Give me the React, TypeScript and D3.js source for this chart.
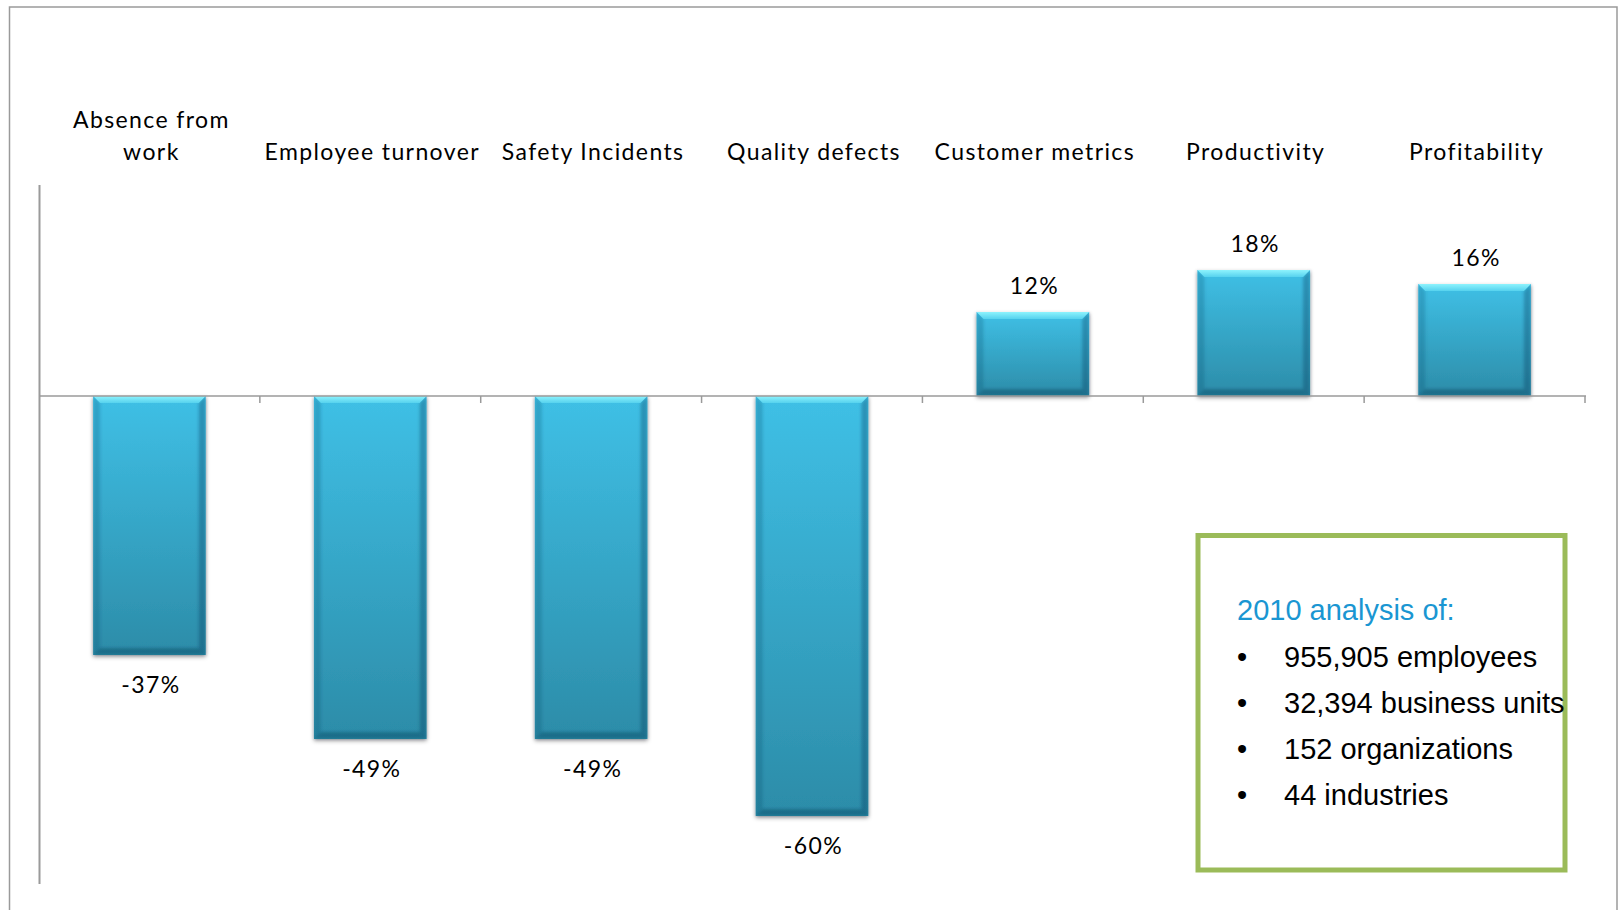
import React from "react";
import * as d3 from "d3";

const categories: string[][] = [
  ["Absence from", "work"],
  ["Employee turnover"],
  ["Safety Incidents"],
  ["Quality defects"],
  ["Customer metrics"],
  ["Productivity"],
  ["Profitability"],
];
const values: number[] = [-37, -49, -49, -60, 12, 18, 16];
const valueLabels: string[] = ["-37%", "-49%", "-49%", "-60%", "12%", "18%", "16%"];
const boxTitle = "2010 analysis of:";
const boxItems: string[] = [
  "955,905 employees",
  "32,394 business units",
  "152 organizations",
  "44 industries",
];

const W = 1619;
const H = 910;

export default function App() {
  const idx = categories.map((_, i) => String(i));
  const x = d3
    .scaleBand<string>()
    .domain(idx)
    .range([39, 1585])
    .paddingInner(0.49)
    .paddingOuter(0.245);
  const y = d3.scaleLinear().domain([-70, 30]).range([886, 186]);
  const y0 = y(0);
  const bw = x.bandwidth();
  const b = 7;
  const step = x.step();
  const tickXs = d3.range(1, 8).map((i) => 39 + i * step);

  const catFont = "Lato, 'Open Sans', sans-serif";

  return (
    <svg
      width={W}
      height={H}
      style={{ position: "absolute", left: 0, top: 0, background: "#fff" }}
    >
      <defs>
        <linearGradient id="barGrad" x1="0" y1="0" x2="0" y2="1">
          <stop offset="0" stopColor="#3fc0e6" />
          <stop offset="1" stopColor="#2c8ca8" />
        </linearGradient>
        <linearGradient id="topGrad" x1="0" y1="0" x2="0" y2="1">
          <stop offset="0" stopColor="#8ef3fd" />
          <stop offset="1" stopColor="#56d2ee" />
        </linearGradient>
        <filter id="shadow" x="-20%" y="-20%" width="140%" height="140%">
          <feDropShadow dx="0" dy="2" stdDeviation="2" floodColor="#000" floodOpacity="0.35" />
        </filter>
        <filter id="soft" x="-20%" y="-20%" width="140%" height="140%">
          <feGaussianBlur stdDeviation="1.5" />
        </filter>
      </defs>

      {/* outer frame */}
      <path
        d={`M9.5,${H} L9.5,7 L1617,7 L1617,${H}`}
        fill="none"
        stroke="#9a9a9a"
        strokeWidth={1.5}
      />

      {/* y axis */}
      <line x1={39.5} x2={39.5} y1={185} y2={884} stroke="#9a9a9a" strokeWidth={2} />

      {/* bars */}
      {values.map((v, i) => {
        const bx = x(String(i))!;
        const top = Math.min(y(v), y0);
        const h = Math.abs(y(v) - y0);
        return (
          <g key={i}>
            <rect x={bx} y={top} width={bw} height={h} fill="url(#barGrad)" filter="url(#shadow)" />
            <g filter="url(#soft)">
              <polygon
                points={`${bx},${top} ${bx + b},${top + b} ${bx + b},${top + h - b} ${bx},${top + h}`}
                fill="rgba(10,70,100,0.22)"
              />
              <polygon
                points={`${bx + bw},${top} ${bx + bw - b},${top + b} ${bx + bw - b},${top + h - b} ${bx + bw},${top + h}`}
                fill="rgba(0,50,80,0.3)"
              />
              <polygon
                points={`${bx},${top + h} ${bx + b},${top + h - b} ${bx + bw - b},${top + h - b} ${bx + bw},${top + h}`}
                fill="rgba(0,50,80,0.35)"
              />
            </g>
            <polygon
              points={`${bx},${top} ${bx + bw},${top} ${bx + bw - b},${top + b} ${bx + b},${top + b}`}
              fill="url(#topGrad)"
            />
          </g>
        );
      })}

      {/* zero axis */}
      <line x1={39} x2={1586} y1={y0} y2={y0} stroke="#9a9a9a" strokeWidth={1.5} />
      {tickXs.map((tx, i) => (
        <line key={i} x1={tx} x2={tx} y1={y0} y2={y0 + 7} stroke="#9a9a9a" strokeWidth={1.5} />
      ))}

      {/* value labels */}
      {values.map((v, i) => {
        const cx = x(String(i))! + bw / 2 + 1.5;
        const ty = v < 0 ? y(v) + 38 : y(v) - 18;
        return (
          <text
            key={i}
            x={cx}
            y={ty}
            textAnchor="middle"
            fontFamily={catFont}
            fontSize={23}
            letterSpacing={1.4}
            fill="#000"
          >
            {valueLabels[i]}
          </text>
        );
      })}

      {/* category labels */}
      {categories.map((lines, i) => {
        const cx = 39 + step * (i + 0.5) + 2;
        return (
          <text
            key={i}
            x={cx}
            textAnchor="middle"
            fontFamily={catFont}
            fontSize={23}
            letterSpacing={1.4}
            fill="#000"
          >
            {lines.map((ln, j) => (
              <tspan key={j} x={cx} y={160 - (lines.length - 1 - j) * 32}>
                {ln}
              </tspan>
            ))}
          </text>
        );
      })}

      {/* info box */}
      <rect
        x={1198}
        y={535.5}
        width={367}
        height={334.5}
        fill="none"
        stroke="#9bbb59"
        strokeWidth={5}
      />
      <text
        x={1237}
        y={620}
        fontFamily="'Liberation Sans', Arial, sans-serif"
        fontSize={29}
        fill="#1a96d2"
      >
        {boxTitle}
      </text>
      {boxItems.map((it, i) => (
        <g key={i}>
          <text
            x={1237}
            y={666.5 + i * 46}
            fontFamily="'Liberation Sans', Arial, sans-serif"
            fontSize={29}
            fill="#000"
          >
            •
          </text>
          <text
            x={1284}
            y={666.5 + i * 46}
            fontFamily="'Liberation Sans', Arial, sans-serif"
            fontSize={29}
            fill="#000"
          >
            {it}
          </text>
        </g>
      ))}
    </svg>
  );
}
